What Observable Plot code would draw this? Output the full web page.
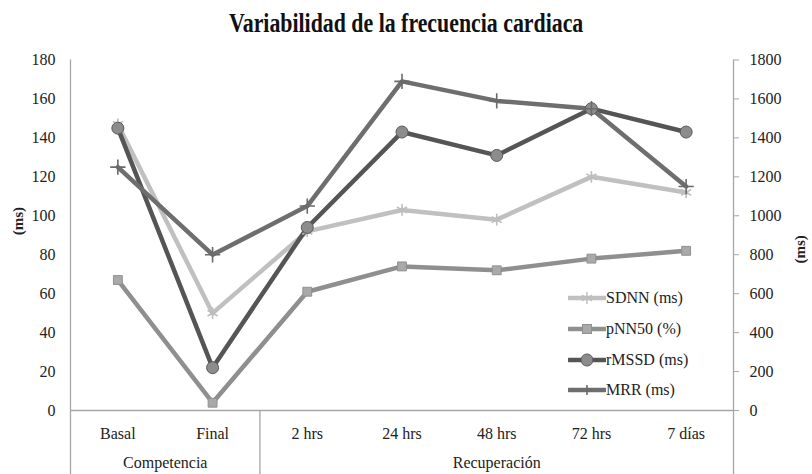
<!DOCTYPE html>
<html>
<head>
<meta charset="utf-8">
<script src="https://cdn.jsdelivr.net/npm/d3@7"></script>
<script src="https://cdn.jsdelivr.net/npm/@observablehq/plot@0.6"></script>
<style>
  body { margin: 0; background: #fff; }
  #wrap { position: relative; width: 812px; height: 474px; overflow: hidden; font-family: "Liberation Serif", "Times New Roman", serif; color: #222; }
  #title { height: 44px; line-height: 46px; text-align: center; }
  #title span { display: inline-block; font-weight: bold; font-size: 28px; color: #111; transform: scaleX(0.78); transform-origin: center; white-space: nowrap; }
  #legend { position: absolute; left: 568px; top: 283px; font-size: 16px; }
  .item { height: 30.7px; display: flex; align-items: center; }
</style>
</head>
<body>
<div id="wrap">
  <div id="title"><span>Variabilidad de la frecuencia cardiaca</span></div>
  <div id="chart"></div>
  <div id="legend"></div>
</div>
<script>
// ---- data ----
const categories = ["Basal", "Final", "2 hrs", "24 hrs", "48 hrs", "72 hrs", "7 días"];
const groupNames = ["Competencia", "Recuperación"];
const groupSizes = [2, 5];
const sdnn  = [147, 50, 92, 103, 98, 120, 112];
const pnn50 = [67, 4, 61, 74, 72, 78, 82];
const rmssd = [145, 22, 94, 143, 131, 155, 143];
const mrr   = [1250, 800, 1050, 1690, 1590, 1550, 1150];
const leftTicks  = [0, 20, 40, 60, 80, 100, 120, 140, 160, 180];
const rightTicks = [0, 200, 400, 600, 800, 1000, 1200, 1400, 1600, 1800];
const seriesNames = ["SDNN (ms)", "pNN50 (%)", "rMSSD (ms)", "MRR (ms)"];

// ---- derived ----
const ratio = rightTicks[rightTicks.length - 1] / leftTicks[leftTicks.length - 1];
const series = [
  {name: seriesNames[0], values: sdnn,  right: false, color: "#c0c0c0", symbol: "asterisk", fill: "none", mstroke: "#bdbdbd", r: 5.5},
  {name: seriesNames[1], values: pnn50, right: false, color: "#8f8f8f", symbol: "square",   fill: "#a9a9a9", mstroke: "#909090", r: 5},
  {name: seriesNames[2], values: rmssd, right: false, color: "#555555", symbol: "circle",   fill: "#8c8c8c", mstroke: "#5a5a5a", r: 6},
  {name: seriesNames[3], values: mrr,   right: true,  color: "#6e6e6e", symbol: "plus",     fill: "none", mstroke: "#6a6a6a", r: 5}
];
const rows = s => s.values.map((v, i) => ({i, v, y: s.right ? v / ratio : v}));
const n = categories.length;
const xDomain = [-0.5, n - 0.5];
const boundaries = [-0.5];
let acc = -0.5;
const groupCenters = [];
groupSizes.forEach(k => { groupCenters.push(acc + k / 2); acc += k; boundaries.push(acc); });
const axisColor = "#a6a6a6";

const marks = [
  Plot.ruleY([0], {stroke: axisColor, strokeWidth: 1.3}),
  Plot.ruleX(xDomain, {stroke: axisColor, strokeWidth: 1.3}),
  Plot.axisX(boundaries, {tickSize: 64, tickFormat: () => "", stroke: axisColor, strokeWidth: 1.3, label: null}),
  Plot.axisX(d3.range(n), {tickSize: 0, tickPadding: 17, tickFormat: i => categories[i], label: null, fontSize: 16}),
  Plot.axisX(groupCenters, {tickSize: 0, tickPadding: 46, tickFormat: c => groupNames[groupCenters.indexOf(c)], label: null, fontSize: 16}),
  Plot.axisY(leftTicks, {anchor: "left", tickSize: 0, tickPadding: 15, label: null, fontSize: 16}),
  Plot.axisY(rightTicks.map(v => v / ratio), {anchor: "right", tickSize: 5, tickPadding: 11, stroke: axisColor,
    tickFormat: v => String(Math.round(v * ratio)), label: null, fontSize: 16}),
  Plot.text(["(ms)"], {text: d => d, frameAnchor: "left", dx: -52, rotate: -90, fontWeight: "bold", fontSize: 15}),
  Plot.text(["(ms)"], {text: d => d, frameAnchor: "right", dx: 67, rotate: -90, fontWeight: "bold", fontSize: 15})
];
for (const s of series) {
  marks.push(Plot.line(rows(s), {x: "i", y: "y", stroke: s.color, strokeWidth: 4.5}));
}
for (const s of series) {
  marks.push(Plot.dot(rows(s), {x: "i", y: "y", symbol: s.symbol, r: s.r, fill: s.fill, stroke: s.mstroke, strokeWidth: s.symbol === "asterisk" || s.symbol === "plus" ? 1.6 : 1}));
}

const chart = Plot.plot({
  width: 812,
  height: 430,
  marginTop: 15.5,
  marginBottom: 64,
  marginLeft: 70,
  marginRight: 79,
  x: {type: "linear", domain: xDomain},
  y: {domain: [leftTicks[0], leftTicks[leftTicks.length - 1]]},
  style: {fontFamily: "'Liberation Serif', serif", fontSize: "16px", color: "#222", background: "white", overflow: "visible"},
  marks
});
document.getElementById("chart").appendChild(chart);

// ---- legend ----
const legend = document.getElementById("legend");
for (const s of series) {
  const item = document.createElement("div");
  item.className = "item";
  let marker = "";
  if (s.symbol === "asterisk") marker = `<g stroke="${s.mstroke}" stroke-width="1.4"><line x1="19" y1="2" x2="19" y2="14"/><line x1="14" y1="5" x2="24" y2="11"/><line x1="14" y1="11" x2="24" y2="5"/></g>`;
  if (s.symbol === "square") marker = `<rect x="14.5" y="3.5" width="9" height="9" fill="${s.fill}" stroke="${s.mstroke}"/>`;
  if (s.symbol === "circle") marker = `<circle cx="19" cy="8" r="6" fill="${s.fill}" stroke="${s.mstroke}"/>`;
  if (s.symbol === "plus") marker = `<line x1="19" y1="3" x2="19" y2="13" stroke="${s.mstroke}" stroke-width="1.6"/>`;
  item.innerHTML = `<svg width="38" height="16"><line x1="1" y1="8" x2="37" y2="8" stroke="${s.color}" stroke-width="4.5" stroke-linecap="round"/>${marker}</svg><span>${s.name}</span>`;
  legend.appendChild(item);
}
</script>
</body>
</html>
